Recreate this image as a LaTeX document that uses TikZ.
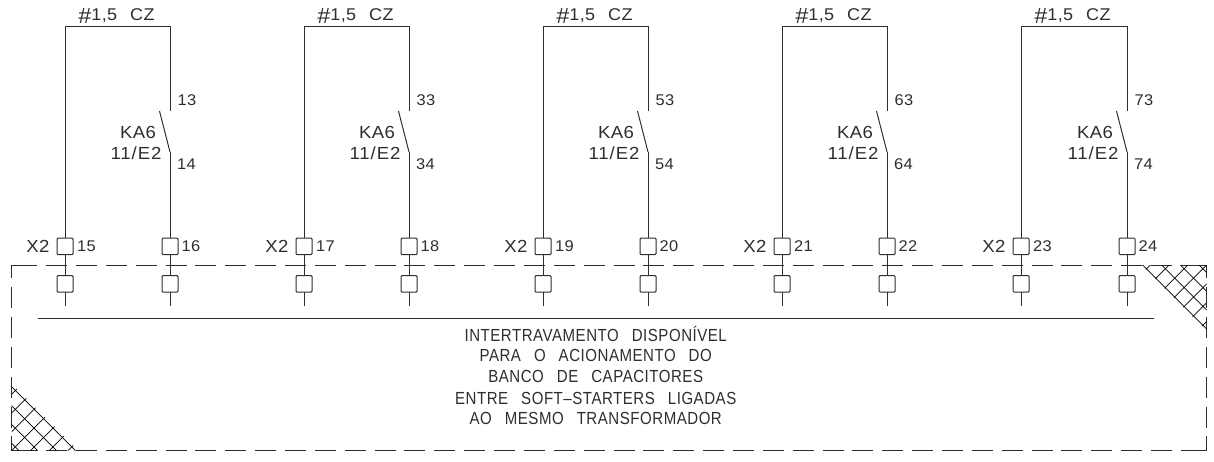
\documentclass[tikz,border=0pt]{standalone}
\usepackage{fontspec}
\setmainfont{Liberation Sans}
\newfontfamily\cadfont[FakeStretch=0.86,LetterSpace=3]{Liberation Sans}
\newfontfamily\cadwide[FakeStretch=1.06,LetterSpace=2]{Liberation Sans}
\newfontfamily\cadwider[FakeStretch=1.06,LetterSpace=5.5]{Liberation Sans}
\newcommand{\wg}{\hspace{13pt}}
\definecolor{ink}{gray}{0.18}
\tikzset{
  x=1pt,y=-1pt,
  wire/.style={draw=ink,line width=1pt},
  term/.style={draw=ink,fill=white,line width=1pt,rounded corners=1pt,minimum width=16pt,minimum height=16.5pt,inner sep=0pt,outer sep=0pt,anchor=center},
  lbl/.style={inner sep=0pt,outer sep=0pt,text=ink,font=\cadwide\fontsize{17.5}{17.5}\selectfont},
  lblw/.style={inner sep=0pt,outer sep=0pt,text=ink,font=\cadwider\fontsize{17.5}{17.5}\selectfont},
  num/.style={inner sep=0pt,outer sep=0pt,text=ink,font=\cadwide\fontsize{15.5}{15.5}\selectfont},
  body/.style={inner sep=0pt,outer sep=0pt,text=ink,anchor=base,font=\cadfont\fontsize{17.5}{17.5}\selectfont},
  frameh/.style={draw=ink,line width=1pt,dash pattern=on 21pt off 8.86pt,dash phase=25.06pt},
  framev/.style={draw=ink,line width=1pt,dash pattern=on 21pt off 8.86pt,dash phase=7.7pt},
  corner/.style={draw=ink,line width=1pt},
  hatch/.style={draw=black,line width=0.7pt},
}
\begin{document}
\begin{tikzpicture}
\useasboundingbox (0,0) rectangle (1214,461);
\coordinate (TL) at (11.5,265);
\coordinate (TR) at (1206.7,265);
\coordinate (BR) at (1206.7,450.7);
\coordinate (BL) at (11.5,450.7);
% dashed frame
\draw[frameh] (TL) -- (TR);
\draw[frameh] (BL) -- (BR);
\draw[framev] (TL) -- (BL);
\draw[framev] (TR) -- (BR);
\draw[corner] (11.5,278.3) -- (TL) -- (16.3,265);
\draw[corner] (1201.8,265) -- (TR) -- (1206.7,270);
\draw[corner] (1201.8,450.7) -- (BR) -- (1206.7,436.5);
\draw[corner] (16.3,450.7) -- (BL) -- (11.5,436.5);
% hatching
\begin{scope}
\clip (11.5,383.5) -- (11.5,450.7) -- (78.7,450.7) -- cycle;
\foreach \k in {0,...,3}{
  \draw[hatch] (0,{375.2+\k*18.8}) -- (120,{495.2+\k*18.8});
}
\foreach \k in {0,...,6}{
  \draw[hatch] (0,{405.8+\k*18.8}) -- (120,{285.8+\k*18.8});
}
\end{scope}
\begin{scope}
\clip (1141.5,265) -- (1206.7,265) -- (1206.7,331) -- cycle;
\foreach \k in {0,...,3}{
  \draw[hatch] (1100,{1100-877.7-\k*18.8}) -- (1220,{1220-877.7-\k*18.8});
}
\foreach \k in {0,...,6}{
  \draw[hatch] (1100,{1528.1-1100-\k*18.8}) -- (1220,{1528.1-1220-\k*18.8});
}
\end{scope}
% columns
\foreach \n/\l/\r/\a/\b/\c/\d in {1/65/170/13/14/15/16,2/304/409/33/34/17/18,3/543/648/53/54/19/20,4/782/887/63/64/21/22,5/1021/1127/73/74/23/24}{
  \coordinate (tl\n) at (\l,26);
  \coordinate (tr\n) at (\r,26);
  \coordinate (ca\n) at (\r,110.5);
  \coordinate (cb\n) at (\r,152);
  \coordinate (cs\n) at (\r-10.5,111);
  \coordinate (el\n) at (\l,306);
  \coordinate (er\n) at (\r,306);
  \node[term] (ul\n) at (\l,246.3) {};
  \node[term] (ur\n) at (\r,246.3) {};
  \node[term] (dl\n) at (\l,283.8) {};
  \node[term] (dr\n) at (\r,283.8) {};
  \draw[wire] (ul\n.north) -- (tl\n) -- (tr\n) -- (ca\n);
  \draw[wire] (cb\n) -- (ur\n.north);
  \draw[wire] (cs\n) -- (cb\n);
  \draw[wire] (ul\n.south) -- (dl\n.north);
  \draw[wire] (ur\n.south) -- (dr\n.north);
  \draw[wire] (dl\n.south) -- (el\n);
  \draw[wire] (dr\n.south) -- (er\n);
  \node[num,anchor=base west] (h\n) at (\l+13,20.7) {\raisebox{-3pt}{\fontsize{22}{22}\selectfont\itshape\#}\kern0.5pt\fontsize{17}{17}\selectfont 1,5\hspace{13pt}CZ};
  \node[num] (a\n) at (\r+17,100.5) {\a};
  \node[num] (b\n) at (\r+16.5,164) {\b};
  \node[lbl] (k\n) at (\r-32,132) {KA6};
  \node[lblw] (e\n) at (\r-34,153) {11/E2};
  \node[lbl] (x\n) at (\l-27,246.5) {X2};
  \node[num] (c\n) at (\l+21.5,246.5) {\c};
  \node[num] (f\n) at (\r+21,246.5) {\d};
}
% long line
\coordinate (ls) at (38,318);
\coordinate (le) at (1154,318);
\draw[wire] (ls) -- (le);
% text
\node[body] (t1) at (595.7,341.7) {INTERTRAVAMENTO\wg DISPONÍVEL};
\node[body] (t2) at (595.7,361.7) {PARA\wg O\wg ACIONAMENTO\wg DO};
\node[body] (t3) at (595.7,382.7) {BANCO\wg DE\wg CAPACITORES};
\node[body] (t4) at (595.7,404) {ENTRE\wg SOFT–STARTERS\wg LIGADAS};
\node[body] (t5) at (595.7,424.8) {AO\wg MESMO\wg TRANSFORMADOR};
\end{tikzpicture}
\end{document}
